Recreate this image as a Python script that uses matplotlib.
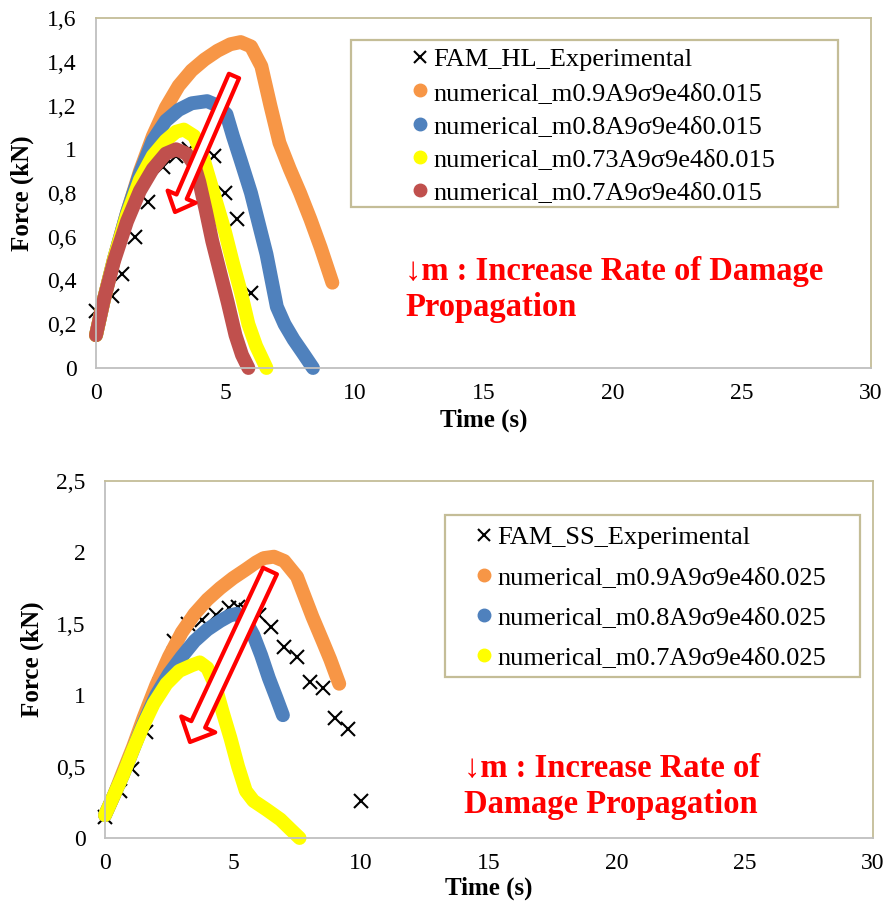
import numpy as np
import matplotlib
matplotlib.use("Agg")
import matplotlib.pyplot as plt
from matplotlib.lines import Line2D
from matplotlib.patches import Rectangle, FancyArrowPatch, ArrowStyle
from matplotlib.transforms import IdentityTransform

plt.rcParams['font.family'] = ['Liberation Serif', 'DejaVu Serif']

# ---------------- data: top chart (FAM_HL) ----------------
hl_exp_t = [0, 0.6, 1.0, 1.5, 2.0, 2.6, 3.1, 3.6, 4.1, 4.55, 5.0, 5.45, 6.0]
hl_exp_f = [0.26, 0.33, 0.43, 0.60, 0.76, 0.92, 0.97, 1.00, 1.05, 0.97, 0.80, 0.68, 0.345]

hl_m09_t = [0, 0.3, 0.7, 1.2, 1.7, 2.2, 2.7, 3.2, 3.7, 4.2, 4.7, 5.2, 5.6, 6.0, 6.4, 6.75, 7.1, 7.5, 7.9, 8.3, 8.7, 9.15]
hl_m09_f = [0.15, 0.31, 0.50, 0.71, 0.90, 1.06, 1.19, 1.29, 1.36, 1.41, 1.45, 1.48, 1.49, 1.47, 1.38, 1.20, 1.03, 0.91, 0.80, 0.68, 0.55, 0.39]

hl_m08_t = [0, 0.3, 0.7, 1.2, 1.7, 2.2, 2.7, 3.2, 3.7, 4.3, 4.7, 5.05, 5.3, 5.6, 6.0, 6.3, 6.6, 6.8, 7.0, 7.3, 7.65, 8.0, 8.4]
hl_m08_f = [0.15, 0.31, 0.50, 0.71, 0.89, 1.04, 1.13, 1.18, 1.21, 1.22, 1.20, 1.16, 1.06, 0.95, 0.80, 0.66, 0.52, 0.40, 0.28, 0.20, 0.13, 0.07, 0.0]

hl_m073_t = [0, 0.3, 0.7, 1.2, 1.7, 2.2, 2.7, 3.1, 3.4, 3.8, 4.1, 4.4, 4.7, 5.0, 5.3, 5.6, 5.9, 6.2, 6.6]
hl_m073_f = [0.15, 0.31, 0.50, 0.70, 0.86, 0.97, 1.04, 1.08, 1.09, 1.06, 0.98, 0.86, 0.74, 0.62, 0.48, 0.35, 0.20, 0.10, 0.0]

hl_m07_t = [0, 0.3, 0.7, 1.2, 1.7, 2.2, 2.7, 3.1, 3.5, 3.8, 4.0, 4.25, 4.5, 4.8, 5.1, 5.4, 5.65, 5.9]
hl_m07_f = [0.15, 0.31, 0.49, 0.67, 0.81, 0.91, 0.98, 1.00, 0.98, 0.93, 0.85, 0.72, 0.58, 0.44, 0.30, 0.15, 0.06, 0.0]

hl_labels = ["FAM_HL_Experimental",
             "numerical_m0.9A9σ9e4δ0.015",
             "numerical_m0.8A9σ9e4δ0.015",
             "numerical_m0.73A9σ9e4δ0.015",
             "numerical_m0.7A9σ9e4δ0.015"]

# ---------------- data: bottom chart (FAM_SS) ----------------
ss_exp_t = [0, 0.6, 1.05, 1.6, 2.15, 2.7, 3.25, 3.8, 4.35, 4.85, 5.2, 5.5, 6.0, 6.5, 7.0, 7.5, 8.0, 8.5, 9.0, 9.5, 10.0]
ss_exp_f = [0.15, 0.33, 0.48, 0.74, 1.08, 1.38, 1.50, 1.53, 1.56, 1.61, 1.62, 1.60, 1.56, 1.48, 1.34, 1.27, 1.09, 1.05, 0.84, 0.76, 0.26]

ss_m09_t = [0, 0.35, 0.7, 1.1, 1.5, 2.0, 2.5, 3.0, 3.5, 4.0, 4.5, 5.0, 5.5, 5.9, 6.2, 6.6, 7.0, 7.5, 8.1, 8.5, 8.8, 9.15]
ss_m09_f = [0.16, 0.30, 0.46, 0.64, 0.84, 1.07, 1.27, 1.44, 1.57, 1.67, 1.75, 1.82, 1.88, 1.93, 1.96, 1.97, 1.94, 1.83, 1.55, 1.38, 1.25, 1.08]

ss_m08_t = [0, 0.35, 0.7, 1.1, 1.5, 2.0, 2.5, 3.0, 3.5, 4.0, 4.5, 4.9, 5.15, 5.5, 5.8, 6.1, 6.4, 6.7, 6.95]
ss_m08_f = [0.16, 0.30, 0.44, 0.62, 0.80, 1.00, 1.15, 1.27, 1.38, 1.46, 1.52, 1.56, 1.57, 1.52, 1.42, 1.28, 1.12, 0.98, 0.86]

ss_m07_t = [0, 0.35, 0.7, 1.1, 1.5, 1.9, 2.4, 2.9, 3.4, 3.7, 4.0, 4.3, 4.6, 4.9, 5.2, 5.5, 5.8, 6.3, 6.85, 7.25, 7.6]
ss_m07_f = [0.16, 0.30, 0.44, 0.62, 0.79, 0.94, 1.08, 1.17, 1.21, 1.23, 1.19, 1.07, 0.88, 0.70, 0.50, 0.33, 0.26, 0.20, 0.13, 0.06, 0.0]

ss_labels = ["FAM_SS_Experimental",
             "numerical_m0.9A9σ9e4δ0.025",
             "numerical_m0.8A9σ9e4δ0.025",
             "numerical_m0.7A9σ9e4δ0.025"]

x_ticks = [0, 5, 10, 15, 20, 25, 30]
hl_y_ticks = [0, 0.2, 0.4, 0.6, 0.8, 1.0, 1.2, 1.4, 1.6]
ss_y_ticks = [0, 0.5, 1.0, 1.5, 2.0, 2.5]

hl_note = "↓m : Increase Rate of Damage\nPropagation"
ss_note = "↓m : Increase Rate of\nDamage Propagation"

# colours (Excel 2010 palette)
c_orange = '#F79646'
c_blue = '#4F81BD'
c_yellow = '#FFFF00'
c_red = '#C0504D'
c_tan = '#C4BD97'
c_gray = '#BFBFBF'

W, H = 888, 902
fig = plt.figure(figsize=(W / 100, H / 100), dpi=100)


def fx(x):
    return x / W


def fy(y):
    return 1 - y / H


def comma(v):
    return f"{v:g}".replace('.', ',')


def style_axes(ax, yticks):
    ax.set_xlim(0, 30)
    ax.set_ylim(yticks[0], yticks[-1])
    ax.set_xticks(x_ticks)
    ax.set_xticklabels([comma(v) for v in x_ticks])
    ax.set_yticks(yticks)
    ax.set_yticklabels([comma(v) for v in yticks])
    ax.tick_params(length=0, labelsize=17)
    ax.tick_params(axis='y', pad=14)
    ax.tick_params(axis='x', pad=11)
    for s in ['left', 'bottom']:
        ax.spines[s].set_color(c_gray)
        ax.spines[s].set_linewidth(1.3)
    for s in ['top', 'right']:
        ax.spines[s].set_color(c_tan)
        ax.spines[s].set_linewidth(1.3)
    ax.set_xlabel("Time (s)", fontsize=18, fontweight='bold')
    ax.set_ylabel("Force (kN)", fontsize=18, fontweight='bold')


line_kw = dict(lw=10, solid_capstyle='round', solid_joinstyle='round', clip_on=False)
exp_kw = dict(ls='none', marker='x', color='black', ms=10, mew=1.5, clip_on=False)

# ---------------- top chart ----------------
ax1 = fig.add_axes([fx(96), fy(368), fx(871) - fx(96), fy(18) - fy(368)])
ax1.plot(hl_exp_t, hl_exp_f, **exp_kw)
ax1.plot(hl_m09_t, hl_m09_f, color=c_orange, **line_kw)
ax1.plot(hl_m08_t, hl_m08_f, color=c_blue, **line_kw)
ax1.plot(hl_m073_t, hl_m073_f, color=c_yellow, **line_kw)
ax1.plot(hl_m07_t, hl_m07_f, color=c_red, **line_kw)
style_axes(ax1, hl_y_ticks)
ax1.xaxis.set_label_coords(0.5, -0.115)
ax1.yaxis.set_label_coords(-0.08, 0.5)

# ---------------- bottom chart ----------------
ax2 = fig.add_axes([fx(105), fy(838), fx(873) - fx(105), fy(481) - fy(838)])
ax2.plot(ss_exp_t, ss_exp_f, **exp_kw)
ax2.plot(ss_m09_t, ss_m09_f, color=c_orange, **line_kw)
ax2.plot(ss_m08_t, ss_m08_f, color=c_blue, **line_kw)
ax2.plot(ss_m07_t, ss_m07_f, color=c_yellow, **line_kw)
style_axes(ax2, ss_y_ticks)
ax2.xaxis.set_label_coords(0.5, -0.108)
ax2.yaxis.set_label_coords(-0.08, 0.5)


# ---------------- legends (frame drawn separately, Excel style) ----------------
def make_handles(colors):
    hs = [Line2D([], [], ls='none', marker='x', color='black', ms=8, mew=1.5)]
    for c in colors:
        hs.append(Line2D([], [], ls='none', marker='o', color=c, ms=9))
    return hs


fig.add_artist(Rectangle((fx(351), fy(207)), fx(838) - fx(351), fy(40) - fy(207),
                         transform=fig.transFigure, fill=False, ec=c_tan, lw=1.6))
fig.legend(make_handles([c_orange, c_blue, c_yellow, c_red]), hl_labels,
           loc='upper left', bbox_to_anchor=(fx(412), fy(48)), bbox_transform=fig.transFigure,
           frameon=False, borderpad=0, borderaxespad=0, handlelength=0.6,
           handletextpad=0.2, labelspacing=0.37, fontsize=19)

fig.add_artist(Rectangle((fx(445), fy(677)), fx(860) - fx(445), fy(515) - fy(677),
                         transform=fig.transFigure, fill=False, ec=c_tan, lw=1.6))
fig.legend(make_handles([c_orange, c_blue, c_yellow]), ss_labels,
           loc='upper left', bbox_to_anchor=(fx(476), fy(526)), bbox_transform=fig.transFigure,
           frameon=False, borderpad=0, borderaxespad=0, handlelength=0.6,
           handletextpad=0.2, labelspacing=0.62, fontsize=19)

# ---------------- red notes ----------------
fig.text(fx(405), fy(256), hl_note, color='red', fontsize=23.5, fontweight='bold',
         ha='left', va='top', linespacing=1.2)
fig.text(fx(464), fy(753), ss_note, color='red', fontsize=23.5, fontweight='bold',
         ha='left', va='top', linespacing=1.2)

# hollow block arrows (pixel coords, y up)
fig.add_artist(FancyArrowPatch((234, H - 76), (175, H - 212), transform=IdentityTransform(),
                               arrowstyle=ArrowStyle.Simple(head_length=12, head_width=22, tail_width=8),
                               mutation_scale=1, shrinkA=0, shrinkB=0,
                               fc='white', ec='red', lw=3, zorder=10))
fig.add_artist(FancyArrowPatch((270, H - 571), (190, H - 742), transform=IdentityTransform(),
                               arrowstyle=ArrowStyle.Simple(head_length=14, head_width=27, tail_width=11),
                               mutation_scale=1, shrinkA=0, shrinkB=0,
                               fc='white', ec='red', lw=3, zorder=10))

fig.savefig("out.png", dpi=100)
